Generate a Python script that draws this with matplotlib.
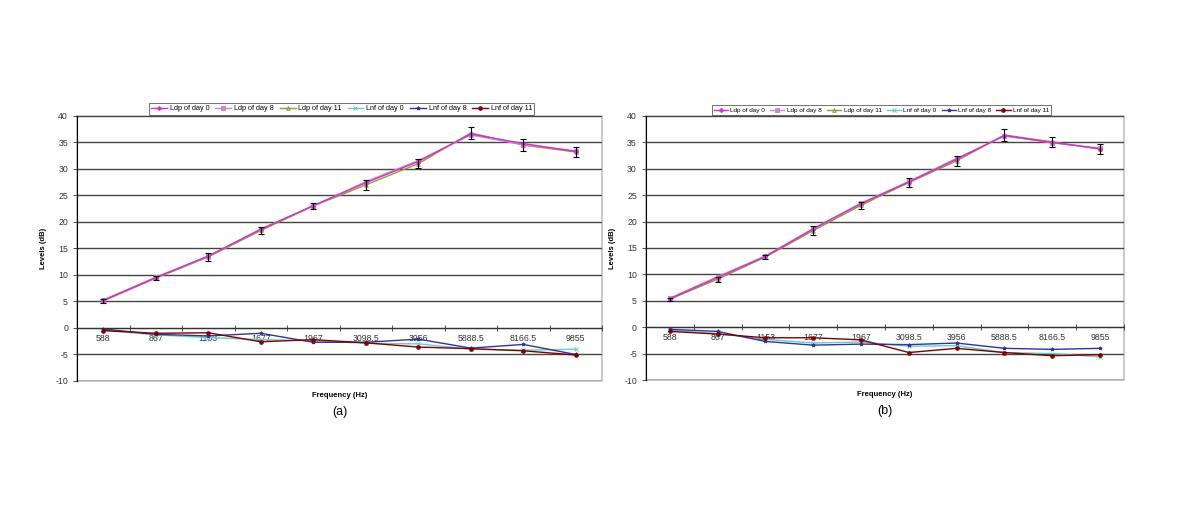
import numpy as np
import matplotlib
matplotlib.use("Agg")
import matplotlib.pyplot as plt
from matplotlib.patches import Rectangle

plt.rcParams['font.family'] = ['Liberation Sans', 'DejaVu Sans']
plt.rcParams['axes.unicode_minus'] = False

freqs = ['588', '867', '1153', '1677', '1967', '3098.5', '3956', '5888.5', '8166.5', '9855']

# panel (a)
ldp0_a = [5.2, 9.5, 13.6, 18.6, 23.1, 27.4, 31.4, 36.6, 34.8, 33.3]
ldp8_a = [5.3, 9.6, 13.5, 18.7, 23.0, 27.6, 31.6, 36.4, 34.6, 33.4]
ldp11_a = [5.1, 9.4, 13.4, 18.4, 23.0, 27.0, 31.0, 36.8, 34.5, 33.2]
err_a = [0.4, 0.4, 0.7, 0.6, 0.6, 0.9, 0.8, 1.2, 1.1, 1.0]
lnf0_a = [-0.4, -1.3, -1.8, -2.2, -2.4, -2.9, -3.0, -4.0, -4.2, -4.0]
lnf8_a = [-0.2, -1.2, -1.5, -1.0, -2.7, -2.7, -2.1, -3.8, -3.1, -5.0]
lnf11_a = [-0.5, -1.0, -0.9, -2.6, -2.2, -2.8, -3.6, -3.9, -4.3, -5.1]

# panel (b)
ldp0_b = [5.4, 9.4, 13.4, 18.6, 23.4, 27.5, 31.8, 36.3, 35.0, 33.8]
ldp8_b = [5.5, 9.6, 13.5, 18.7, 23.5, 27.6, 32.0, 36.2, 34.9, 33.9]
ldp11_b = [5.3, 9.1, 13.3, 18.3, 23.1, 27.4, 31.5, 36.4, 35.1, 33.7]
err_b = [0.3, 0.5, 0.4, 0.8, 0.7, 0.8, 1.0, 1.1, 0.9, 0.9]
lnf0_b = [-0.6, -1.2, -2.3, -3.0, -2.8, -3.6, -3.5, -4.8, -5.0, -5.6]
lnf8_b = [-0.4, -0.8, -2.7, -3.4, -3.2, -3.3, -3.0, -4.0, -4.2, -4.0]
lnf11_b = [-0.8, -1.3, -2.0, -2.0, -2.4, -4.8, -4.0, -4.8, -5.4, -5.2]

series_style = [
    ('Ldp of day 0', '#cc33cc', 'P', 3.0),
    ('Ldp of day 8', '#cc88cc', 's', 2.5),
    ('Ldp of day 11', '#999933', '^', 1.5),
    ('Lnf of day 0', '#66cccc', 'x', 2.5),
    ('Lnf of day 8', '#333399', '*', 2.5),
    ('Lnf of day 11', '#800000', 'o', 2.6),
]

fig = plt.figure(figsize=(12, 5.18), dpi=100)


def panel(rect, ldp0, ldp8, ldp11, err, lnf0, lnf8, lnf11, tag, legx, legfs):
    ax = fig.add_axes(rect)
    x = np.arange(len(freqs))
    data = [ldp0, ldp8, ldp11, lnf0, lnf8, lnf11]
    handles = []
    for (lab, col, mk, z), y in zip(series_style, data):
        mfc = 'none' if mk == '^' else col
        h, = ax.plot(x, y, color=col, lw=1.0, marker=mk, ms=2.6, mfc=mfc,
                     mec='#66aa33' if mk == '^' else col, mew=0.7,
                     label=lab, zorder=z)
        handles.append(h)
    ax.errorbar(x, ldp11, yerr=err, fmt='none', ecolor='black', elinewidth=0.8,
                capsize=2, capthick=0.8, zorder=4)
    ax.set_xlim(-0.5, len(freqs) - 0.5)
    ax.set_ylim(-10, 40)
    ax.set_yticks(np.arange(-10, 41, 5))
    ax.yaxis.grid(True, color='#444444', lw=1.0)
    ax.set_axisbelow(True)
    ax.tick_params(axis='y', labelsize=6.3, length=3, width=0.6, colors='#333333')
    ax.spines['left'].set_color('black')
    ax.spines['left'].set_linewidth(0.8)
    ax.spines['top'].set_visible(False)
    ax.spines['right'].set_visible(False)
    ax.spines['bottom'].set_position(('data', 0))
    ax.spines['bottom'].set_color('#333333')
    ax.spines['bottom'].set_linewidth(0.8)
    ax.add_patch(Rectangle((0, 0), 1, 1, transform=ax.transAxes, fill=False,
                           ec='#c0c0c0', lw=1.2, zorder=0, clip_on=False))
    ax.set_xticks(x)
    ax.set_xticklabels(freqs)
    ax.set_xticks(np.arange(-0.5, len(freqs), 1.0), minor=True)
    ax.tick_params(axis='x', which='major', length=0, labelsize=6.3, pad=4,
                   colors='#333333')
    ax.tick_params(axis='x', which='minor', direction='inout', length=4,
                   width=0.6, colors='#333333')
    ax.set_ylabel('Levels (dB)', fontsize=5.5, fontweight='bold', labelpad=6)
    ax.text(0.5, -0.04, 'Frequency (Hz)', transform=ax.transAxes, ha='center',
            va='top', fontsize=5.5, fontweight='bold')
    ax.text(0.5, -0.095, tag, transform=ax.transAxes, ha='center', va='top',
            fontsize=9)
    leg = ax.legend(handles=handles, loc='lower left', ncol=6,
                    bbox_to_anchor=(legx, 1.005), fontsize=legfs, frameon=True,
                    fancybox=False, edgecolor='#333333', handlelength=2.2,
                    handletextpad=0.4, columnspacing=0.8, borderpad=0.3,
                    borderaxespad=0.0)
    leg.get_frame().set_linewidth(0.6)
    return ax


panel([0.0642, 0.2645, 0.4375, 0.5116], ldp0_a, ldp8_a, ldp11_a, err_a,
      lnf0_a, lnf8_a, lnf11_a, '(a)', 0.137, 5.2)
panel([0.5383, 0.2664, 0.3983, 0.5097], ldp0_b, ldp8_b, ldp11_b, err_b,
      lnf0_b, lnf8_b, lnf11_b, '(b)', 0.138, 4.6)

fig.savefig('out.png', dpi=100)
